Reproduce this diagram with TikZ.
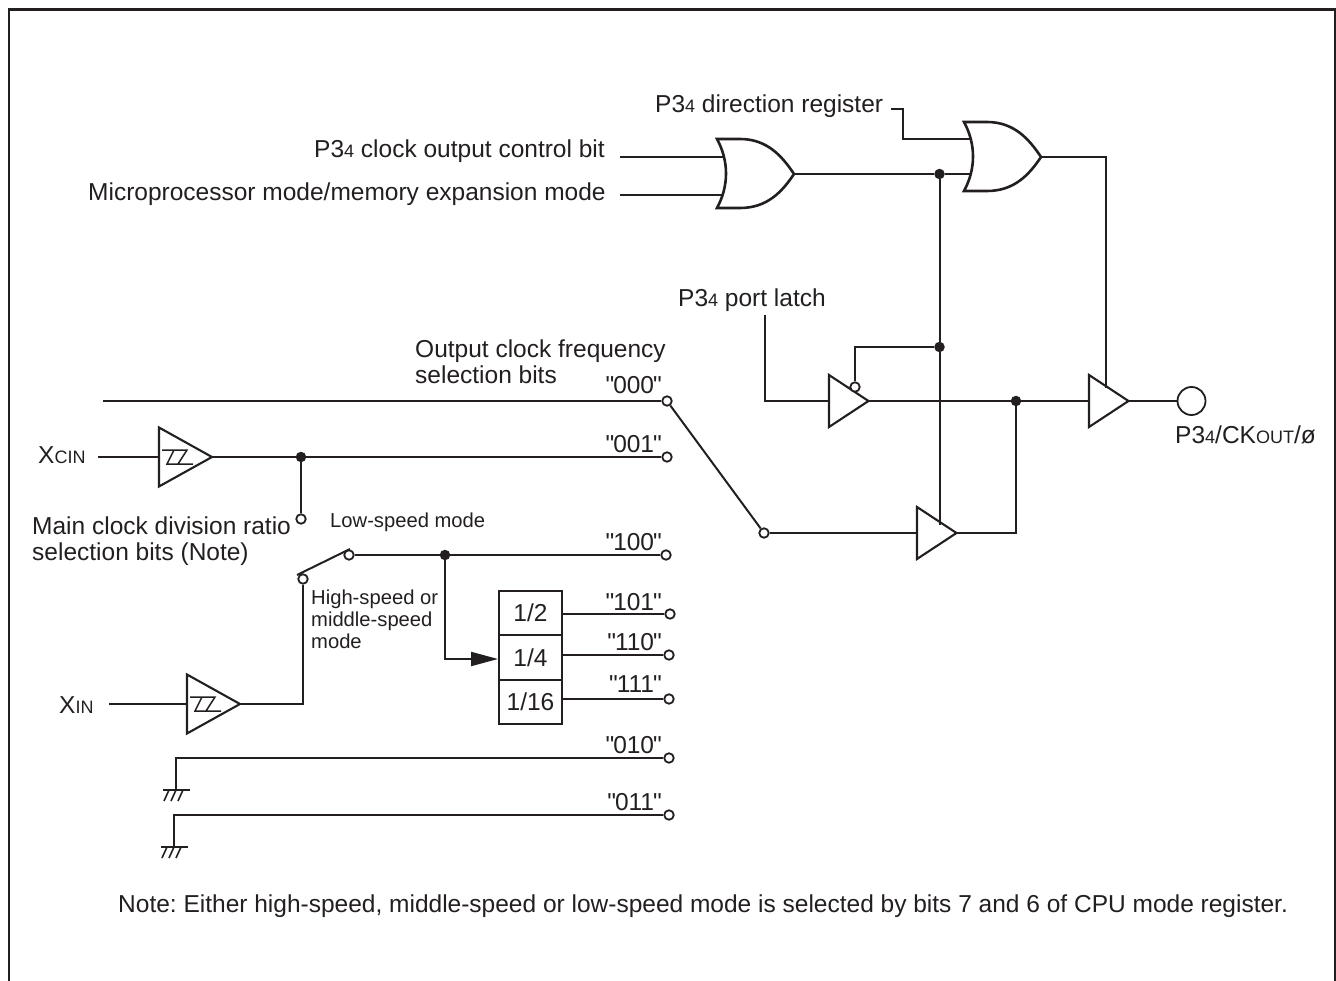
\documentclass[tikz,border=0pt]{standalone}
\usepackage{fontspec}
\setmainfont{Liberation Sans}
\newfontfamily\codefont{Liberation Sans}
\usetikzlibrary{arrows.meta}
\frenchspacing
\definecolor{ink}{HTML}{231F20}
\newcommand{\lgfont}{\fontsize{24.5}{28}\selectfont}
\newcommand{\mdfont}{\fontsize{20.2}{23}\selectfont}
\newcommand{\smal}[1]{{\fontsize{18}{20}\selectfont #1}}
\newcommand{\qcode}[1]{"\kern-1pt#1\kern-1pt"}
\tikzset{
  wire/.style={draw=ink,line width=2pt},
  gate/.style={draw=ink,line width=2.1pt,fill=white,line join=miter},
  orgate/.style={draw=ink,line width=2.6pt,fill=white,line join=miter},
  dotn/.style={circle,fill=ink,draw=none,minimum size=10.5pt,inner sep=0pt},
  term/.style={circle,draw=ink,line width=1.8pt,fill=white,minimum size=9.5pt,inner sep=0pt},
  lab/.style={anchor=base west,inner sep=0pt,text=ink,font=\lgfont},
  labs/.style={anchor=base west,inner sep=0pt,text=ink,font=\mdfont},
  code/.style={anchor=base east,inner sep=0pt,text=ink,font=\codefont\lgfont},
  divbox/.style={draw=ink,line width=2pt,minimum width=63pt,minimum height=44.5pt,inner sep=0pt,text=ink,font=\lgfont},
}
% triangle buffer: name, left x, centre y
\newcommand{\buffer}[3]{%
  \coordinate (#1-in) at (#2,#3);
  \coordinate (#1-out) at (#2+39.5,#3);
  \draw[gate] (#2,#3-26) -- (#1-out) -- (#2,#3+26) -- cycle;
}
% larger Schmitt buffer
\newcommand{\schmitt}[3]{%
  \coordinate (#1-in) at (#2,#3);
  \coordinate (#1-out) at (#2+53,#3);
  \draw[gate] (#2,#3-29.5) -- (#1-out) -- (#2,#3+29.5) -- cycle;
  \draw[draw=ink,line width=1.5pt] (#2+3,#3-7) -- (#2+28,#3-7) -- (#2+19,#3+7)
     (#2+15,#3-7) -- (#2+8,#3+7) -- (#2+34,#3+7);
}
% OR gate: name, left x, centre y
\newcommand{\orgate}[3]{%
  \coordinate (#1-out) at (#2+77,#3);
  \draw[orgate] (#2,#3-35) -- (#2+23,#3-35) .. controls (#2+50,#3-35) and (#2+65,#3-18) .. (#1-out)
     .. controls (#2+65,#3+18) and (#2+50,#3+34) .. (#2+23,#3+34) -- (#2,#3+34)
     .. controls (#2+12,#3+12) and (#2+12,#3-13) .. (#2,#3-35) -- cycle;
}
% ground: name, x, top y
\newcommand{\earth}[3]{%
  \coordinate (#1) at (#2,#3);
  \draw[draw=ink,line width=1.9pt] (#2-13,#3) -- (#2+14,#3);
  \draw[draw=ink,line width=1.6pt] (#2-7,#3) -- (#2-12,#3+11) (#2,#3) -- (#2-5,#3+11) (#2+7,#3) -- (#2+2,#3+11);
}
\begin{document}
\begin{tikzpicture}[x=1pt,y=-1pt]
\useasboundingbox (0,0) rectangle (1336,981);
% frame
\draw[draw=ink,line width=2.8pt] (9,981) -- (9,9.5) -- (1335,9.5) -- (1335,981);

% coordinates
\coordinate (dirA) at (891,109);
\coordinate (dirB) at (903,109);
\coordinate (dirC) at (903,139);
\coordinate (dirD) at (972,139);
\coordinate (clkA) at (620,157);
\coordinate (clkB) at (723,157);
\coordinate (micA) at (620,195);
\coordinate (micB) at (723,195);
\coordinate (or2in) at (972,174);
\coordinate (latA) at (765,315);
\coordinate (latB) at (765,401);
\coordinate (trunkEnd) at (939.5,525);
\coordinate (fbA) at (855,347);
\coordinate (o2A) at (1106,157);
\coordinate (o2B) at (1106,388);
\coordinate (c0) at (103,401);
\coordinate (xcinA) at (98,457);
\coordinate (xinA) at (109,704);
\coordinate (xinB) at (303,704);
\coordinate (tbD) at (1016,533);
\coordinate (arrA) at (445,659);
\coordinate (arrB) at (498,659);
\coordinate (g1B) at (176,758);
\coordinate (g2B) at (174,815);
\coordinate (sw1) at (297,575);
\coordinate (sw2) at (350,549);

% wires drawn first where gates cover their ends
\draw[wire] (clkA) -- (clkB);
\draw[wire] (micA) -- (micB);
\draw[wire] (dirA) -- (dirB) -- (dirC) -- (dirD);

% gates
\orgate{or1}{717}{174}
\orgate{or2}{964}{157}
\schmitt{stA}{159}{457}
\schmitt{stB}{187}{704}
\buffer{bufA}{829}{401}
\buffer{bufB}{917}{533}
\buffer{bufC}{1089}{401}

% nodes
\node[dotn] (j1) at (939.5,174) {};
\node[dotn] (j2) at (939.5,347) {};
\node[dotn] (j3) at (1016,401) {};
\node[dotn] (j4) at (301,457) {};
\node[dotn] (j5) at (445,555) {};
\node[term] (t000) at (667,401) {};
\node[term] (t001) at (667,457) {};
\node[term] (t100) at (666,555) {};
\node[term] (t101) at (670,614) {};
\node[term] (t110) at (669,655) {};
\node[term] (t111) at (669,699) {};
\node[term] (t010) at (669,758) {};
\node[term] (t011) at (669,815) {};
\node[term] (tsel) at (764,533) {};
\node[term] (tdiv) at (301,519) {};
\node[term] (tsw) at (303,579) {};
\node[term] (tlow) at (349,555) {};
\node[term] (tinv) at (855,387) {};
\node[circle,draw=ink,line width=1.8pt,minimum size=28pt,inner sep=0pt] (pad) at (1191.5,401) {};
\node[divbox] (d2) at (530.5,613) {1/2};
\node[divbox] (d4) at (530.5,657.5) {1/4};
\node[divbox] (d16) at (530.5,702) {1/16};

% wires
\draw[wire] (or1-out) -- (j1) -- (or2in);
\draw[wire] (j1) -- (j2) -- (trunkEnd);
\draw[wire] (j2) -- (fbA) -- (tinv);
\draw[wire] (latA) -- (latB) -- (bufA-in);
\draw[wire] (bufA-out) -- (j3) -- (bufC-in);
\draw[wire] (or2-out) -- (o2A) -- (o2B);
\draw[wire] (bufC-out) -- (pad);
\draw[wire] (j3) -- (tbD) -- (bufB-out);
\draw[wire] (tsel) -- (bufB-in);
\draw[wire] (t000) -- (tsel);
\draw[wire] (c0) -- (t000);
\draw[wire] (xcinA) -- (stA-in);
\draw[wire] (stA-out) -- (j4) -- (t001);
\draw[wire] (j4) -- (tdiv);
\draw[wire] (xinA) -- (stB-in);
\draw[wire] (stB-out) -- (xinB) -- (tsw);
\draw[wire] (sw1) -- (sw2);
\draw[wire] (tlow) -- (j5) -- (t100);
\draw[wire,-{Triangle[length=27pt,width=14pt]}] (j5) -- (arrA) -- (arrB);
\draw[wire] (d2.east |- t101) -- (t101);
\draw[wire] (d4.east |- t110) -- (t110);
\draw[wire] (d16.east |- t111) -- (t111);
\earth{g1}{176}{790}
\earth{g2}{174}{847}
\draw[wire] (g1) -- (g1B) -- (t010);
\draw[wire] (g2) -- (g2B) -- (t011);

% labels
\node[lab] (l1) at (655,113) {P3\smal{4} direction register};
\node[lab] (l2) at (314,158) {P3\smal{4} clock output control bit};
\node[lab] (l3) at (88,201) {Microprocessor mode/memory expansion mode};
\node[lab] (l4) at (678,307) {P3\smal{4} port latch};
\node[lab] (l5) at (415,358) {Output clock frequency};
\node[lab] (l6) at (415,384) {selection bits};
\node[code] (c000) at (662,394) {\qcode{000}};
\node[code] (c001) at (662,453) {\qcode{001}};
\node[code] (c100) at (662,550) {\qcode{100}};
\node[code] (c101) at (662,610) {\qcode{101}};
\node[code] (c110) at (662,650) {\qcode{110}};
\node[code] (c111) at (662,692) {\qcode{111}};
\node[code] (c010) at (662,753) {\qcode{010}};
\node[code] (c011) at (662,810) {\qcode{011}};
\node[lab] (l7) at (38,463) {X\smal{CIN}};
\node[lab] (l8) at (59,713) {X\smal{IN}};
\node[lab] (l9) at (32,534) {Main clock division ratio};
\node[lab] (l10) at (32,560) {selection bits (Note)};
\node[labs] (l11) at (330,527) {Low-speed mode};
\node[labs] (l12) at (311,604) {High-speed or};
\node[labs] (l13) at (311,626) {middle-speed};
\node[labs] (l14) at (311,648) {mode};
\node[lab] (l15) at (1175,443) {P3\smal{4}/CK\smal{OUT}/ø};
\node[lab] (l16) at (118,912) {Note: Either high-speed, middle-speed or low-speed mode is selected by bits 7 and 6 of CPU mode register.};
\end{tikzpicture}
\end{document}
